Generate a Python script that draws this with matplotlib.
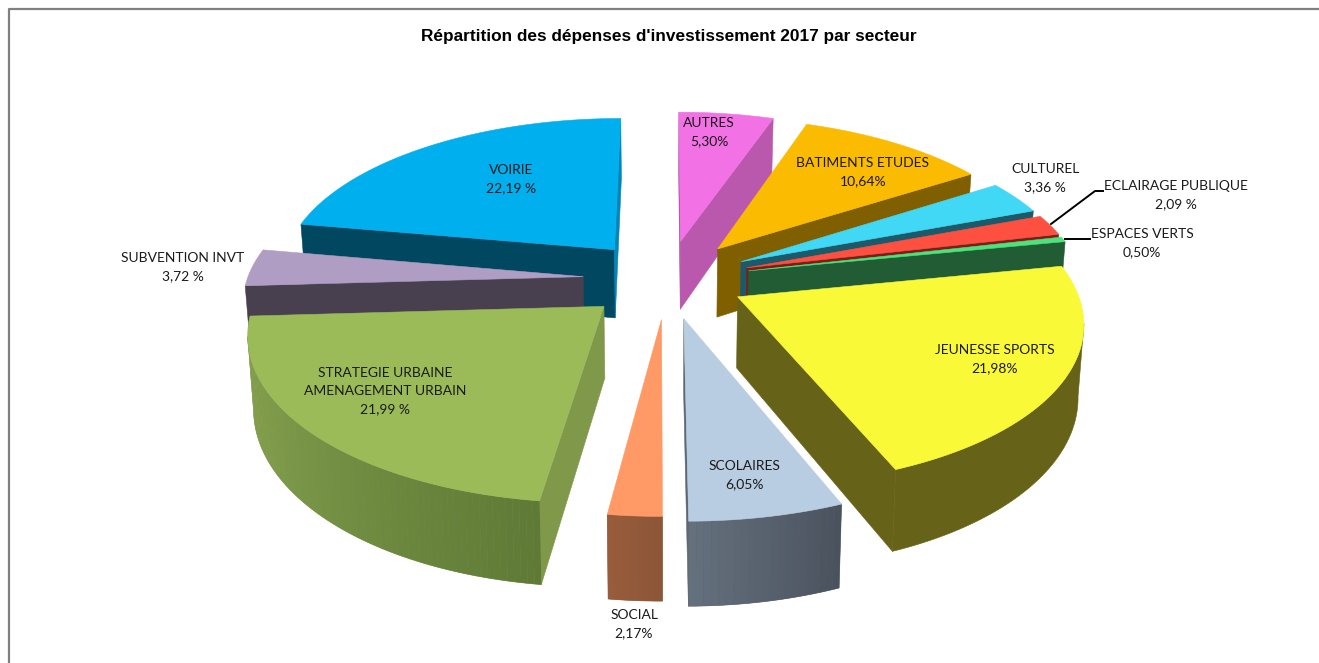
#!/usr/bin/env python3
# -*- coding: utf-8 -*-
import numpy as np
import matplotlib
matplotlib.use("Agg")
import matplotlib.pyplot as plt
from matplotlib.collections import PolyCollection
from matplotlib.colors import to_rgb

sectors = ["AUTRES", "BATIMENTS ETUDES", "CULTUREL", "ECLAIRAGE PUBLIQUE", "ESPACES VERTS",
           "JEUNESSE SPORTS", "SCOLAIRES", "SOCIAL", "STRATEGIE URBAINE\nAMENAGEMENT URBAIN",
           "SUBVENTION INVT", "VOIRIE"]
values = [5.30, 10.64, 3.36, 2.09, 0.50, 21.98, 6.05, 2.17, 21.99, 3.72, 22.19]
value_labels = ["5,30%", "10,64%", "3,36 %", "2,09 %", "0,50%", "21,98%", "6,05%", "2,17%",
                "21,99 %", "3,72 %", "22,19 %"]

# colours: top, cut faces, outer wall at start / end of the slice
top_colors = ["#F271E4", "#FBBB00", "#40D8F4", "#FD5040", "#4BE37B", "#F9F938",
              "#B8CCE2", "#FF9966", "#9BBB59", "#B09DC4", "#00B0EE"]
cut_start_colors = ["#A34C99", "#7F5F00", "#1D5A69", "#7A1E1A", "#215C35", "#666218",
                    "#5D6874", "#8C5637", "#7F984A", "#483F4F", "#00475F"]
cut_end_colors = ["#BA58AE", "#7F5F00", "#1D5A69", "#7A1E1A", "#215C35", "#666218",
                  "#5D6874", "#8C5637", "#7F984A", "#483F4F", "#0085BC"]
wall_from = ["#BA58AE", "#7F5F00", "#1D5A69", "#7A1E1A", "#215C35", "#666218",
             "#4A525D", "#8C5637", "#5E7A36", "#483F4F", "#00475F"]
wall_to = ["#BA58AE", "#7F5F00", "#1D5A69", "#7A1E1A", "#215C35", "#666218",
           "#65707E", "#985C3C", "#8FAB55", "#483F4F", "#00475F"]

# label centres in pixels
label_xy = [(709, 132), (863, 172), (1045, 178), (1176, 195), (1142, 243), (995, 359),
            (744, 475), (634, 624), (385, 391), (183, 267), (511, 179)]

# projection of the pie
cx, cy = 667, 279
a0, b0 = 336, 157
persp = 0.139
explode = [0.25, 0.25, 0.25, 0.25, 0.25, 0.235, 0.25, 0.25, 0.25, 0.25, 0.25]
radius = [1.0, 1.0, 1.0, 1.0, 1.0, 1.0, 1.025, 1.0, 1.02, 1.0, 1.0]
depth = 70
narrow = 0.014  # bottom face is a bit narrower than the top one
cam = np.array([0.0, 1 / persp])


def project(x, y, down=0.0):
    f = 1 / (1 - persp * y)
    return cx + a0 * x * f * (1 - narrow * down / depth), cy + b0 * y * f + down * f


def visible(px, py, nx, ny):
    return (cam[0] - px) * nx + (cam[1] - py) * ny > 0


fig = plt.figure(figsize=(13.19, 6.63), dpi=100)
ax = fig.add_axes([0, 0, 1, 1])
ax.set_xlim(0, 1319)
ax.set_ylim(663, 0)
ax.axis("off")

# chart frame, only top and left show
ax.plot([8.5, 8.5, 1319], [663, 8.5, 8.5], color="#808080", linewidth=1.6, zorder=1)

vals = np.array(values)
edges = np.concatenate([[0], np.cumsum(vals)]) / vals.sum() * 2 * np.pi
mids = (edges[:-1] + edges[1:]) / 2

# back to front
order = np.argsort(-np.cos(mids))
z = 2
for i in order:
    t0, t1 = edges[i], edges[i + 1]
    r = radius[i]
    ax_, ay_ = explode[i] * np.sin(mids[i]), -explode[i] * np.cos(mids[i])
    th = np.linspace(t0, t1, max(int((t1 - t0) * 60), 4))
    ox = ax_ + r * np.sin(th)
    oy = ay_ - r * np.cos(th)

    # cut faces
    for t, col, sign in [(t0, cut_start_colors[i], -1), (t1, cut_end_colors[i], 1)]:
        nx, ny = sign * np.cos(t), sign * np.sin(t)
        if visible(ax_, ay_, nx, ny):
            ex, ey = ax_ + r * np.sin(t), ay_ - r * np.cos(t)
            face = [project(ax_, ay_), project(ex, ey), project(ex, ey, depth), project(ax_, ay_, depth)]
            ax.fill(*zip(*face), color=col, linewidth=0.4, zorder=z)
            z += 1

    # outer wall, solid base then strips for the gradient
    strips, cols, keep = [], [], []
    c0, c1 = np.array(to_rgb(wall_from[i])), np.array(to_rgb(wall_to[i]))
    for k in range(len(th) - 1):
        tm = (th[k] + th[k + 1]) / 2
        if not visible(ax_ + r * np.sin(tm), ay_ - r * np.cos(tm), np.sin(tm), -np.cos(tm)):
            continue
        keep.append(k)
        strips.append([project(ox[k], oy[k]), project(ox[k + 1], oy[k + 1]),
                       project(ox[k + 1], oy[k + 1], depth), project(ox[k], oy[k], depth)])
        cols.append(c0 + (c1 - c0) * k / max(len(th) - 2, 1))
    if strips:
        ids = keep + [keep[-1] + 1]
        upper = [project(ox[k], oy[k]) for k in ids]
        lower = [project(ox[k], oy[k], depth) for k in ids[::-1]]
        ax.fill(*zip(*(upper + lower)), color=tuple((c0 + c1) / 2), linewidth=0.4, zorder=z)
        z += 1
        if wall_from[i] != wall_to[i]:
            ax.add_collection(PolyCollection(strips, facecolors=cols, edgecolors="none", zorder=z))
            z += 1

    # top
    tx = np.concatenate([[ax_], ox])
    ty = np.concatenate([[ay_], oy])
    px, py = project(tx, ty)
    ax.fill(px, py, color=top_colors[i], linewidth=0.4, zorder=z)
    z += 1

# leader lines
ax.plot([1051, 1095, 1103], [224, 191, 191], color="black", linewidth=1.4, zorder=z)
ax.plot([1065, 1090], [239, 239], color="black", linewidth=1.4, zorder=z)

for name, val, (lx, ly) in zip(sectors, value_labels, label_xy):
    ax.text(lx, ly, name + "\n" + val, ha="center", va="center", family="Lato", fontsize=10,
            color="#1a1a1a", linespacing=1.62, zorder=z + 1)

ax.text(669, 37, "Répartition des dépenses d'investissement 2017 par secteur", ha="center", va="center",
        family="Liberation Sans", fontweight="bold", fontsize=12.45, color="black", zorder=z + 1)

fig.savefig("out.png", dpi=100)
